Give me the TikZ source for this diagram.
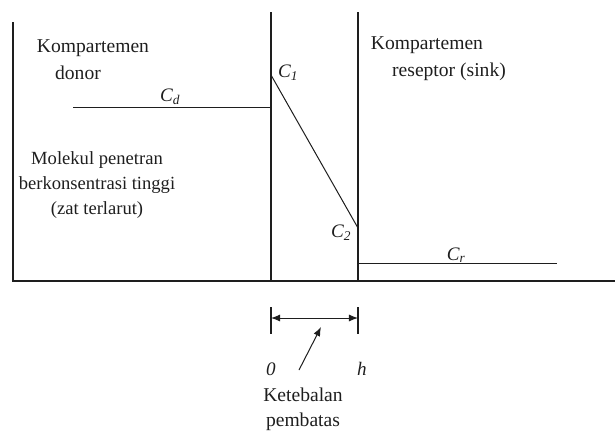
\documentclass[tikz,border=0pt]{standalone}
\usepackage{fontspec}
\setmainfont{Liberation Serif}
\usetikzlibrary{arrows.meta, positioning}
\definecolor{InkGray}{RGB}{30, 30, 30}

\begin{document}
\begin{tikzpicture}[
        x=0.35mm, y=-0.35mm,
        wall/.style={draw=InkGray, line width=1.1pt},
        conc/.style={draw=InkGray, line width=1pt},
        txt/.style={font=\fontsize{19.5}{25}\selectfont, text=InkGray, align=center, inner sep=0pt},
        sym/.style={font=\fontsize{19}{20}\selectfont\itshape, text=InkGray, inner sep=0pt}
    ]
        \useasboundingbox (0,0) rectangle (615,430);

        % walls of the cell and the barrier
        \coordinate (donorTop) at (13,22);
        \coordinate (donorBot) at (13,281);
        \coordinate (memLTop) at (271,12);
        \coordinate (memLBot) at (271,281);
        \coordinate (memRTop) at (358,12);
        \coordinate (memRBot) at (358,281);
        \coordinate (floorEnd) at (615,281);
        \draw[wall] (donorTop) -- (donorBot) -- (floorEnd);
        \draw[wall] (memLTop) -- (memLBot);
        \draw[wall] (memRTop) -- (memRBot);

        % concentration profile
        \coordinate (cdStart) at (73,107);
        \coordinate (cdEnd) at (271,107);
        \coordinate (cOne) at (271,75);
        \coordinate (cTwo) at (358,228);
        \coordinate (crStart) at (358,263);
        \coordinate (crEnd) at (557,263);
        \draw[conc] (cdStart) -- (cdEnd);
        \draw[conc] (cOne) -- (cTwo);
        \draw[conc] (crStart) -- (crEnd);

        \node[sym] (labCd) at (170,97) {C\textsubscript{d}};
        \node[sym] (labC1) at (288,73) {C\textsubscript{1}};
        \node[sym] (labC2) at (341,233) {C\textsubscript{2}};
        \node[sym] (labCr) at (456,255) {C\textsubscript{r}};

        % compartment texts
        \node[txt] (donorA) at (93,48) {Kompartemen};
        \node[txt] (donorB) at (78,73) {donor};
        \node[txt, font=\fontsize{18.5}{25}\selectfont] (penetran) at (97,185) {Molekul penetran\\berkonsentrasi tinggi\\(zat terlarut)};
        \node[txt] (sinkA) at (427,45) {Kompartemen};
        \node[txt] (sinkB) at (449,72) {reseptor (sink)};

        % barrier thickness
        \coordinate (tickLTop) at (271,307);
        \coordinate (tickLBot) at (271,334);
        \coordinate (tickRTop) at (358,307);
        \coordinate (tickRBot) at (358,334);
        \draw[wall] (tickLTop) -- (tickLBot);
        \draw[wall] (tickRTop) -- (tickRBot);
        \draw[conc, {Latex[length=9pt,width=7pt]}-{Latex[length=9pt,width=7pt]}] (271,318) -- (358,318);

        \node[sym] (zero) at (271,369) {0};
        \node[sym] (hh) at (362,369) {h};
        \node[txt] (tebal) at (303,409) {Ketebalan\\pembatas};
        \coordinate (ptrTail) at (299,370);
        \coordinate (ptrHead) at (321,327);
        \draw[conc, -{Latex[length=9pt,width=7pt]}] (ptrTail) -- (ptrHead);
    \end{tikzpicture}
\end{document}
